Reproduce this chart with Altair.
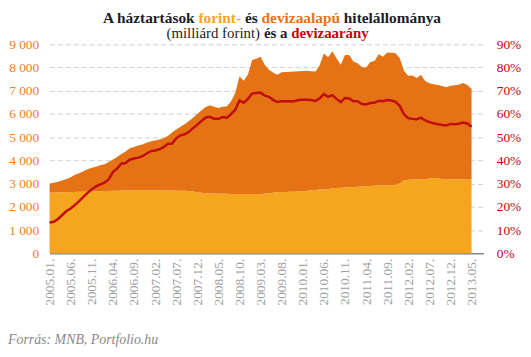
import altair as alt
import pandas as pd

tick_labels = ["2005.01.", "2005.06.", "2005.11.", "2006.04.", "2006.09.", "2007.02.",
               "2007.07.", "2007.12.", "2008.05.", "2008.10.", "2009.03.", "2009.08.",
               "2010.01.", "2010.06.", "2010.11.", "2011.04.", "2011.09.", "2012.02.",
               "2012.07.", "2012.12.", "2013.05."]

# forint-alapú hitelállomány (milliárd Ft), havi 2005.01 - 2013.05
forint = [2610, 2615, 2620, 2625, 2630, 2640, 2645, 2650, 2655, 2660,
          2665, 2670, 2675, 2680, 2685, 2690, 2695, 2700, 2705, 2710,
          2715, 2720, 2720, 2720, 2715, 2710, 2710, 2705, 2700, 2700,
          2695, 2690, 2690, 2680, 2660, 2630, 2610, 2590, 2580, 2575,
          2570, 2565, 2560, 2557, 2555, 2553, 2553, 2553, 2553, 2553,
          2555, 2570, 2590, 2610, 2624, 2635, 2645, 2650, 2655, 2660,
          2667, 2690, 2710, 2730, 2745, 2752, 2770, 2790, 2808, 2820,
          2835, 2850, 2860, 2870, 2880, 2894, 2900, 2910, 2915, 2925,
          2935, 2945, 2950, 3020, 3130, 3165, 3175, 3180, 3185, 3190,
          3220, 3240, 3230, 3200, 3180, 3180, 3180, 3180, 3180, 3180,
          3177]

# devizaalapú hitelállomány (milliárd Ft)
deviza = [397, 425, 457, 515, 570, 640, 735, 800, 875, 957,
          1015, 1060, 1115, 1150, 1245, 1350, 1455, 1580, 1675, 1810,
          1865, 1920, 1970, 2040, 2115, 2150, 2190, 2255, 2350, 2500,
          2635, 2760, 2870, 3020, 3180, 3370, 3550, 3710, 3800, 3735,
          3690, 3745, 3770, 3993, 4345, 5067, 4877, 5147, 5777, 5827,
          5915, 5540, 5310, 5170, 5066, 5165, 5165, 5170, 5175, 5180,
          5183, 5170, 5130, 5100, 5355, 5858, 5670, 5910, 5592, 5300,
          5705, 5690, 5400, 5320, 5140, 5106, 5340, 5370, 5655, 5545,
          5715, 5695, 5670, 5380, 4720, 4485, 4485, 4370, 4505, 4230,
          4100, 4040, 4020, 4000, 3970, 4040, 4060, 4080, 4150, 4070,
          3903]

# devizaarány (%)
arany = [13.3, 13.6, 14.8, 16.5, 18.2, 19.3, 20.8, 22.5, 24.3, 26.0,
         27.6, 28.8, 29.7, 30.4, 31.8, 35.0, 36.5, 38.6, 38.9, 40.3,
         40.8, 41.2, 41.8, 43.0, 44.0, 44.3, 44.8, 45.7, 47.1, 47.3,
         49.5, 50.8, 51.2, 52.3, 53.9, 55.4, 57.0, 58.5, 58.8, 57.9,
         57.9, 58.7, 58.4, 60.0, 61.8, 65.8, 64.8, 66.5, 68.8, 69.0,
         69.2, 67.9, 67.4, 66.0, 65.2, 65.5, 65.5, 65.5, 65.5, 66.0,
         66.1, 66.1, 66.0, 65.6, 66.7, 68.6, 67.4, 68.1, 66.5, 65.1,
         66.9, 66.7, 65.5, 65.5, 64.3, 64.1, 64.7, 64.8, 65.7, 65.5,
         66.0, 65.8, 65.2, 63.4, 59.8, 58.2, 57.9, 57.7, 58.4, 57.2,
         56.5, 56.0, 55.6, 55.3, 55.0, 55.7, 55.6, 55.8, 56.3, 55.9,
         54.5]

n = len(forint)
idx = list(range(n))

area_df = pd.DataFrame({
    "i": idx * 2,
    "series": ["forint"] * n + ["deviza"] * n,
    "ord": [0] * n + [1] * n,
    "value": forint + deviza,
})
line_df = pd.DataFrame({"i": idx, "arany": arany})

OX, OY = 50, 43  # page position of plot origin
W, H = 438, 211
FONT = "Liberation Serif"

label_expr = "[" + ",".join("'%s'" % t for t in tick_labels) + "][round(datum.value/5)]"

x_axis = alt.Axis(values=list(range(0, 101, 5)), labelExpr=label_expr,
                  labelAngle=270, labelFont=FONT, labelFontSize=13.5,
                  labelColor="#a0a0a0", labelPadding=5, labelOverlap=False,
                  labelFlush=False, ticks=False, grid=False,
                  domainColor="#8c8c8c", domainWidth=1.5, title=None)
x_scale = alt.Scale(domain=[0, 102.8], nice=False, zero=False)

area = alt.Chart(area_df).mark_area().encode(
    x=alt.X("i:Q", scale=x_scale, axis=x_axis),
    y=alt.Y("value:Q", stack="zero",
            scale=alt.Scale(domain=[0, 9000], nice=False),
            axis=alt.Axis(values=list(range(0, 9001, 1000)),
                          labelExpr="replace(format(datum.value, ','), ',', ' ')",
                          labelFont=FONT, labelFontSize=13.5, labelColor="#F07C1F",
                          labelPadding=11, ticks=False, domain=False,
                          gridDash=[5, 3], gridColor="#cfcfcf", gridWidth=1, title=None)),
    color=alt.Color("series:N", scale=alt.Scale(domain=["forint", "deviza"],
                                                range=["#F6A61E", "#E57316"]), legend=None),
    order=alt.Order("ord:Q"),
)

line = alt.Chart(line_df).mark_line(color="#C00D0D", strokeWidth=2.5).encode(
    x=alt.X("i:Q", scale=x_scale, axis=x_axis),
    y=alt.Y("arany:Q", scale=alt.Scale(domain=[0, 90], nice=False),
            axis=alt.Axis(orient="right", values=list(range(0, 91, 10)),
                          labelExpr="datum.value + '%'", labelFont=FONT,
                          labelFontSize=13.5, labelColor="#C0001A", labelPadding=13,
                          ticks=False, domain=False, grid=False, title=None)),
)


def txt(s, xp, yp, color, size, weight="normal", style="normal", align="left"):
    return alt.Chart(pd.DataFrame({"t": [s]})).mark_text(
        align=align, baseline="middle", font=FONT, fontSize=size,
        fontWeight=weight, fontStyle=style, color=color
    ).encode(x=alt.value(xp - OX), y=alt.value(yp - OY), text="t:N")


dark = "#1c1c2a"
L1, L2 = 16, 32
title_layers = [
    txt("A háztartások", 196.4, L1, dark, 15.5, "bold", align="right"),
    txt("forint-", 200.3, L1, "#F6A61E", 15.5, "bold"),
    txt("és", 247.2, L1, dark, 15.5, "bold"),
    txt("devizaalapú", 264.0, L1, "#E57316", 15.5, "bold"),
    txt("hitelállománya", 347.1, L1, dark, 15.5, "bold"),
    txt("(milliárd forint)", 168, L2, dark, 15),
    txt("és a", 266.4, L2, dark, 15, "bold"),
    txt("devizaarány", 293.9, L2, "#C8000A", 15, "bold"),
    txt("Forrás: MNB, Portfolio.hu", 8, 342, "#8a8a8a", 14, "normal", "italic"),
]

chart = alt.layer(area, line, *title_layers).resolve_scale(y="independent").properties(
    width=W, height=H,
    padding={"left": OX - 8, "top": OY - 8, "right": 520 - (OX - 8) - W, "bottom": 100},
    autosize=alt.AutoSizeParams(type="none"),
).configure_view(stroke=None).configure_axisX(labelOverlap=False)

chart.save("out.html", embed_options={"renderer": "svg", "actions": False})
